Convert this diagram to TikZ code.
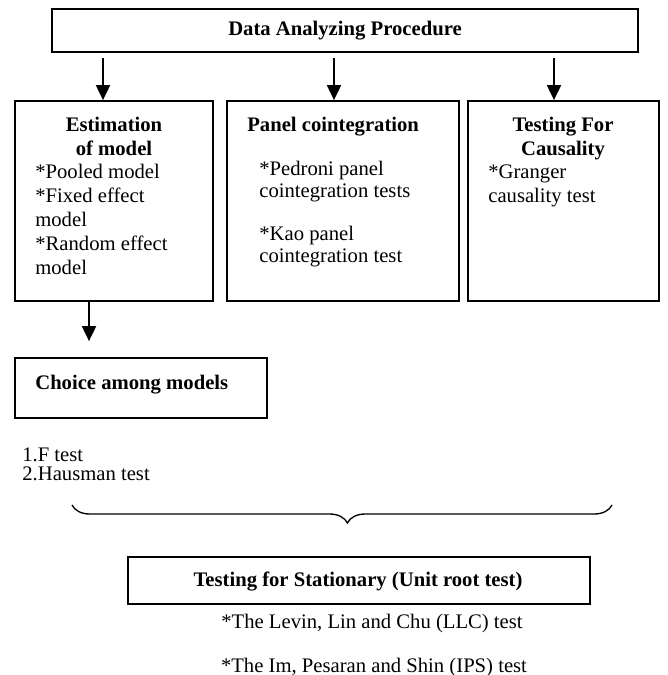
\documentclass[tikz,border=0pt]{standalone}
\usepackage{fontspec}
\setmainfont{Liberation Serif}
\usetikzlibrary{arrows.meta,fit,decorations.pathreplacing}
\tikzset{
  box/.style={draw, line width=1.1pt, inner sep=0pt},
  txt/.style={inner sep=0pt, font=\fontsize{12.4pt}{14.4pt}\selectfont},
  head/.style={txt, font=\fontsize{12.4pt}{14.4pt}\selectfont\bfseries, align=center},
  arr/.style={-{Triangle[length=9pt,width=8.5pt]}, line width=0.9pt},
}
\begin{document}
\begin{tikzpicture}[x=0.6pt, y=-0.6pt]
\useasboundingbox (0,0) rectangle (667,675);
% boxes
\node[box, fit={(52,9) (638,52)}] (proc) {};
\node[box, fit={(15,101) (213,301)}] (est) {};
\node[box, fit={(227,101) (459,301)}] (pan) {};
\node[box, fit={(468,101) (659,301)}] (cau) {};
\node[box, fit={(15,358) (267,418)}] (choice) {};
\node[box, fit={(128,557) (590,604)}] (stat) {};
% texts in the boxes (base = last line)
\node[head, anchor=base] (procT) at (345,36) {Data Analyzing Procedure};
\node[head, anchor=base] (estH) at (114,155) {Estimation\\of model};
\node[txt, anchor=base west, align=left] (estB) at (35,274) {*Pooled model\\*Fixed effect\\model\\*Random effect\\model};
\node[head, anchor=base west] (panH) at (247,131) {Panel cointegration};
\node[txt, anchor=base west, align=left, font=\fontsize{12.4pt}{13.2pt}\selectfont] (panB) at (259,262) {*Pedroni panel\\cointegration tests\\[12.6pt]*Kao panel\\cointegration test};
\node[head, anchor=base] (cauH) at (563,155) {Testing For\\Causality};
\node[txt, anchor=base west, align=left] (cauB) at (488,202) {*Granger\\causality test};
\node[head, anchor=base west] (choiceT) at (35,389) {Choice among models};
\node[head, anchor=base] (statT) at (358,586) {Testing for Stationary (Unit root test)};
% free texts
\node[txt, anchor=base west, align=left, font=\fontsize{12.4pt}{11.4pt}\selectfont] (tests) at (22,480) {1.F test\\2.Hausman test};
\node[txt, anchor=base] (llc) at (372,628) {*The Levin, Lin and Chu (LLC) test};
\node[txt, anchor=base] (ips) at (374,672) {*The Im, Pesaran and Shin (IPS) test};
% arrows
\coordinate (a1) at ([xshift=-6.6pt]est.north);
\coordinate (a2) at ([xshift=-5.4pt]pan.north);
\coordinate (a3) at ([xshift=-5.7pt]cau.north);
\coordinate (a4) at ([xshift=-15pt]est.south);
\draw[arr, shorten <=3pt] (proc.south -| a1) -- (a1);
\draw[arr, shorten <=3pt] (proc.south -| a2) -- (a2);
\draw[arr, shorten <=3pt] (proc.south -| a3) -- (a3);
\draw[arr, shorten >=9.6pt] (a4) -- (a4 |- choice.north);
% brace
\coordinate (brL) at (72,505);
\coordinate (brR) at (612,505);
\draw[decorate, decoration={brace, mirror, amplitude=10.8pt, aspect=0.51}, line width=0.8pt] (brL) -- (brR);
\end{tikzpicture}
\end{document}
